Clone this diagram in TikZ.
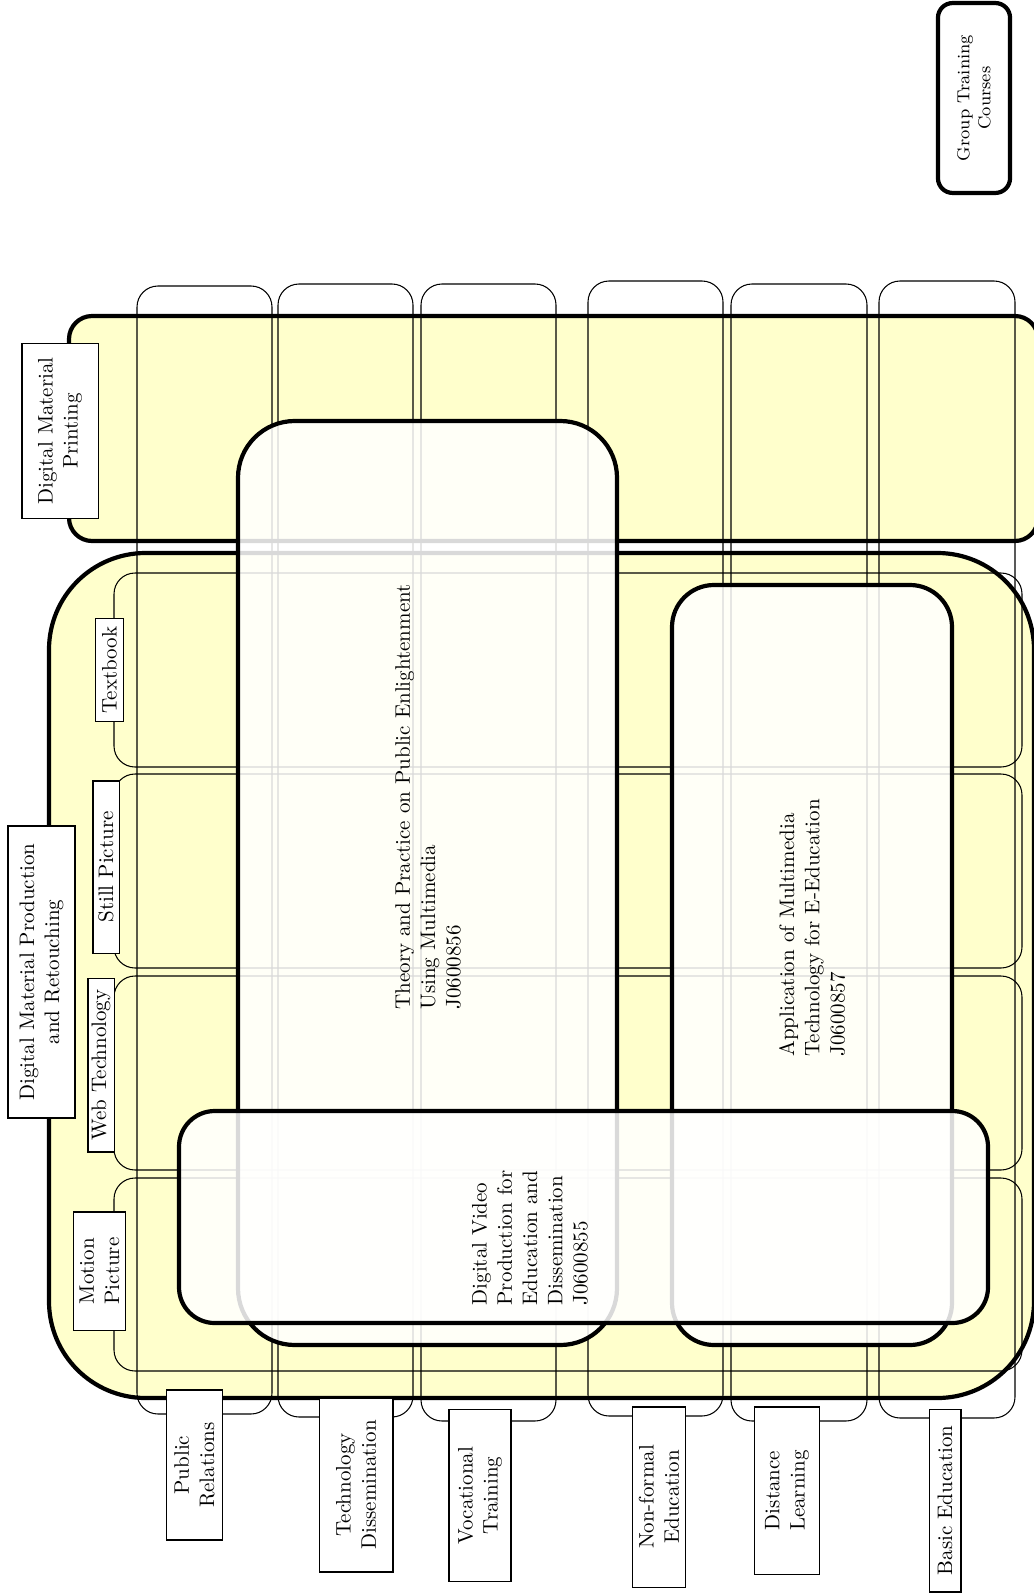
\documentclass[tikz,border=0pt]{standalone}
\usetikzlibrary{fit}
\definecolor{paleyellow}{RGB}{255,255,204}
\begin{document}
\begin{tikzpicture}[x=0.476pt,y=-0.476pt,
  area/.style={draw, line width=2pt, fill=paleyellow, inner sep=0pt},
  band/.style={draw, line width=0.5pt, inner sep=0pt, rounded corners=10pt},
  course/.style={draw, line width=2pt, fill=white, fill opacity=0.85, inner sep=0pt},
  lbl/.style={draw, line width=0.5pt, fill=white, rotate=90, align=center, inner sep=1pt},
  ctext/.style={rotate=90, align=left, inner sep=0pt},
  gbox/.style={draw, line width=2pt, fill=white, rotate=90, align=center, rounded corners=7pt, inner sep=1pt, font=\fontsize{8.3}{10}\selectfont}]
\useasboundingbox (0,0) rectangle (1033,1593);

% group areas
\node[area, rounded corners=11pt, fit={(69,316) (1038,541)}] (printing) {};
\node[area, rounded corners=46pt, fit={(49,553) (1034,1398)}] (production) {};

% audience columns
\node[band, fit={(137,286) (272,1414)}] (col1) {};
\node[band, fit={(278,284) (413,1417)}] (col2) {};
\node[band, fit={(421,284) (556,1421)}] (col3) {};
\node[band, fit={(588,281) (723,1416)}] (col4) {};
\node[band, fit={(731,284) (867,1421)}] (col5) {};
\node[band, fit={(879,281) (1015,1418)}] (col6) {};

% media rows
\node[band, fit={(114,573) (1022,767)}] (row1) {};
\node[band, fit={(114,774) (1022,968)}] (row2) {};
\node[band, fit={(114,976) (1022,1170)}] (row3) {};
\node[band, fit={(114,1178) (1022,1371)}] (row4) {};

% courses
\node[course, rounded corners=27pt, fit={(238,421) (617,1345)}] (theory) {};
\node[course, rounded corners=20pt, fit={(672,585) (952,1345)}] (app) {};
\node[course, rounded corners=17pt, fit={(179,1111) (988,1323)}] (dv) {};

\node[ctext] (theorytext) at (428,797) {Theory and Practice on Public Enlightenment\\Using Multimedia\\J0600856};
\node[ctext] (apptext) at (812,928) {Application of Multimedia\\Technology for E-Education\\J0600857};
\node[ctext] (dvtext) at (530,1238) {Digital Video\\Production for\\Education and\\Dissemination\\J0600855};

% legend
\node[gbox, minimum width=90.4pt, minimum height=34.3pt] (group) at (974,98) {Group Training\\Courses};

% labels
\node[lbl, minimum width=83.3pt, minimum height=36.2pt] (printlbl) at (60,431) {Digital Material\\Printing};
\node[lbl, minimum width=139pt, minimum height=31.9pt] (prodlbl) at (41.5,972) {Digital Material Production\\and Retouching};
\node[lbl, minimum width=49pt, minimum height=12.9pt] (textbooklbl) at (109.5,670) {Textbook};
\node[lbl, minimum width=81.9pt, minimum height=12.4pt] (stilllbl) at (106,867) {Still Picture};
\node[lbl, minimum width=82.8pt, minimum height=12.4pt] (weblbl) at (101,1065) {Web Technology};
\node[lbl, minimum width=56.2pt, minimum height=25.2pt] (motionlbl) at (99.5,1271) {Motion\\Picture};
\node[lbl, minimum width=71.4pt, minimum height=27.1pt] (prlbl) at (194.5,1465) {Public\\Relations};
\node[lbl, minimum width=82.8pt, minimum height=35.2pt] (tdlbl) at (356,1485) {Technology\\Dissemination};
\node[lbl, minimum width=82.3pt, minimum height=29.5pt] (vtlbl) at (480,1495.5) {Vocational\\Training};
\node[lbl, minimum width=85.7pt, minimum height=24.8pt] (nfelbl) at (659,1497) {Non-formal\\Education};
\node[lbl, minimum width=79.5pt, minimum height=30.5pt] (dllbl) at (787,1490.5) {Distance\\Learning};
\node[lbl, minimum width=87.1pt, minimum height=15.2pt] (belbl) at (945,1500.5) {Basic Education};
\end{tikzpicture}
\end{document}
